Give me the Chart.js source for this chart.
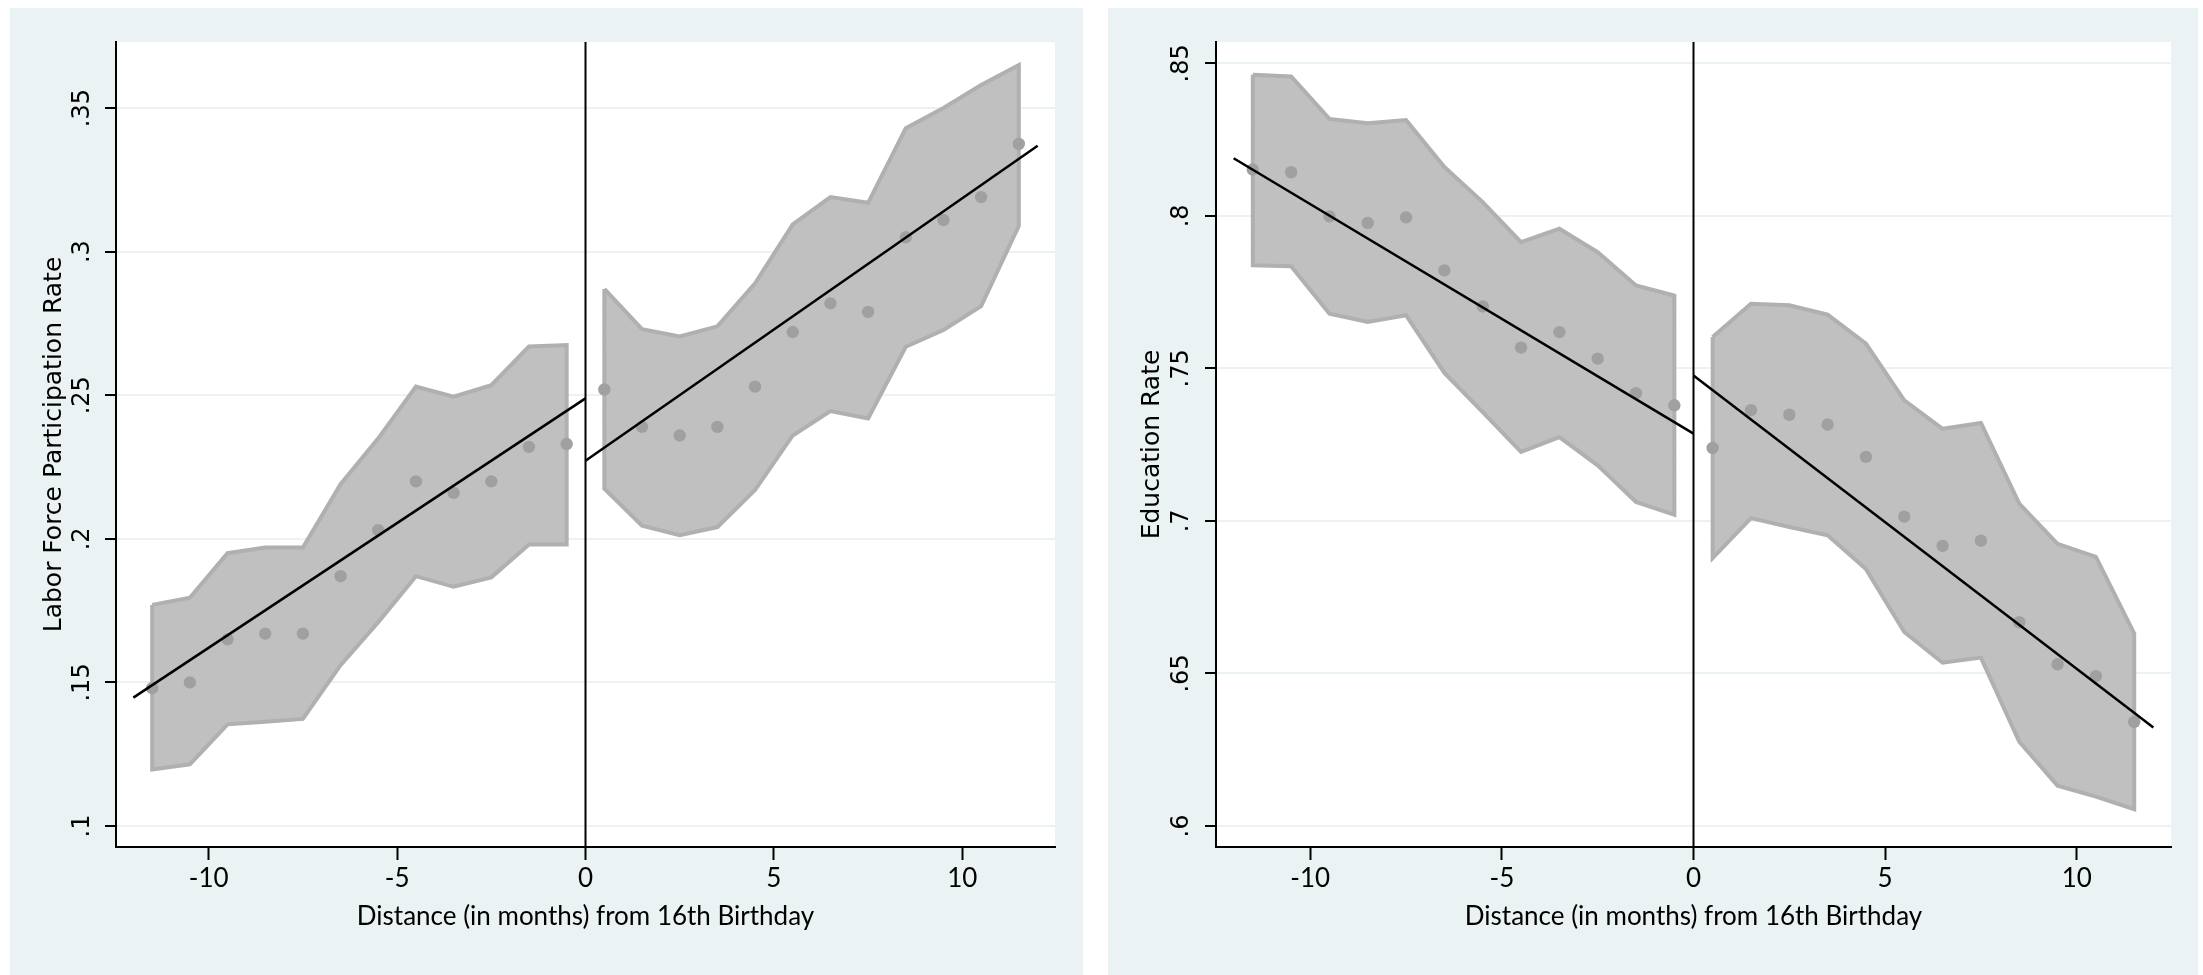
<!DOCTYPE html>
<html>
<head>
<meta charset="utf-8">
<script src="https://cdn.jsdelivr.net/npm/chart.js@4.4.1/dist/chart.umd.min.js"></script>
<style>
  body { margin: 0; background: #fff; width: 2203px; height: 975px; overflow: hidden; position: relative; }
  .panel { position: absolute; top: 8px; height: 967px; background: #eaf2f3; }
  #panel_labor { left: 10px; width: 1073px; }
  #panel_edu { left: 1108px; width: 1090px; }
  canvas { display: block; }
</style>
</head>
<body>
<div class="panel" id="panel_labor"><canvas id="labor_chart" width="1073" height="967"></canvas></div>
<div class="panel" id="panel_edu"><canvas id="edu_chart" width="1090" height="967"></canvas></div>
<script>
// bin midpoints, months from 16th birthday
const months = [-11.5, -10.5, -9.5, -8.5, -7.5, -6.5, -5.5, -4.5, -3.5, -2.5, -1.5, -0.5,
                0.5, 1.5, 2.5, 3.5, 4.5, 5.5, 6.5, 7.5, 8.5, 9.5, 10.5, 11.5];
const cutoff = 0;
const fitLeftX = [-12, 0];
const fitRightX = [0, 12];

// labor force participation (left panel)
const laborRate  = [0.148, 0.150, 0.165, 0.167, 0.167, 0.187, 0.203, 0.220, 0.216, 0.220, 0.232, 0.233,
                    0.252, 0.239, 0.236, 0.239, 0.253, 0.272, 0.282, 0.279, 0.305, 0.311, 0.319, 0.3375];
const laborUpper = [0.177, 0.1795, 0.195, 0.197, 0.197, 0.219, 0.235, 0.253, 0.2495, 0.2535, 0.267, 0.2675,
                    0.287, 0.273, 0.2705, 0.274, 0.289, 0.3095, 0.319, 0.317, 0.343, 0.350, 0.358, 0.365];
const laborLower = [0.1197, 0.1215, 0.1354, 0.1363, 0.1373, 0.156, 0.171, 0.187, 0.1833, 0.1866, 0.198, 0.198,
                    0.2175, 0.2046, 0.2013, 0.2041, 0.217, 0.236, 0.2445, 0.2419, 0.2669, 0.2727, 0.281, 0.309];
const laborFitLeft  = [0.1447, 0.2489];
const laborFitRight = [0.2272, 0.3369];

// education rate (right panel)
const eduRate  = [0.8152, 0.8143, 0.7998, 0.7977, 0.7995, 0.7821, 0.7703, 0.7568, 0.7619, 0.7532, 0.7419, 0.7379,
                  0.7239, 0.7363, 0.7348, 0.7316, 0.7210, 0.7014, 0.6918, 0.6935, 0.6668, 0.6530, 0.6491, 0.6341];
const eduUpper = [0.8463, 0.8457, 0.8318, 0.8304, 0.8314, 0.816, 0.8045, 0.7914, 0.7958, 0.7881, 0.7772, 0.7739,
                  0.7603, 0.7712, 0.7707, 0.7676, 0.7581, 0.7395, 0.7302, 0.7321, 0.7057, 0.6925, 0.6882, 0.6631];
const eduLower = [0.7838, 0.7835, 0.7679, 0.7652, 0.7674, 0.7485, 0.7357, 0.7226, 0.7275, 0.7182, 0.7062, 0.7020,
                  0.6878, 0.7009, 0.6980, 0.6953, 0.6842, 0.6636, 0.6535, 0.6552, 0.6276, 0.6132, 0.6096, 0.6055];
const eduFitLeft  = [0.8189, 0.7286];
const eduFitRight = [0.7477, 0.6323];

// axis ticks
const xTicks = [-10, -5, 0, 5, 10];
const xLabels = ['-10', '-5', '0', '5', '10'];
const xRange = [-12.46, 12.46];
const laborTicks = [0.1, 0.15, 0.2, 0.25, 0.3, 0.35];
const laborLabels = ['.1', '.15', '.2', '.25', '.3', '.35'];
const laborRange = [0.0927, 0.373];
const eduTicks = [0.6, 0.65, 0.7, 0.75, 0.8, 0.85];
const eduLabels = ['.6', '.65', '.7', '.75', '.8', '.85'];
const eduRange = [0.5931, 0.857];

const xTitle = 'Distance (in months) from 16th Birthday';

// white plot region on the tinted panel
const plotBackground = {
    id: 'plotBackground',
    beforeDraw(chart) {
        const a = chart.chartArea;
        chart.ctx.save();
        chart.ctx.fillStyle = '#ffffff';
        chart.ctx.fillRect(a.left, a.top, a.right - a.left, a.bottom - a.top);
        chart.ctx.restore();
    }
};

// closed outline of a CI band: upper left->right, lower right->left
function bandPolygon(xs, up, lo) {
    const pts = xs.map((x, i) => ({x: x, y: up[i]}));
    for (let i = xs.length - 1; i >= 0; i--) {
        pts.push({x: xs[i], y: lo[i]});
    }
    pts.push(pts[0]);
    return pts;
}

function toPoints(xs, ys) {
    return xs.map((x, i) => ({x: x, y: ys[i]}));
}

function drawPanel(canvasId, s) {
    const ctx = document.getElementById(canvasId).getContext('2d');
    const band = {
        type: 'scatter', showLine: true, pointRadius: 0, order: 4,
        borderColor: '#b0b0b0', borderWidth: 4, backgroundColor: '#c0c0c0', fill: 'shape'
    };
    const fit = {type: 'scatter', showLine: true, pointRadius: 0, order: 2, borderColor: '#000', borderWidth: 2.5, fill: false};

    new Chart(ctx, {
        type: 'scatter',
        data: {
            datasets: [
                Object.assign({}, band, {data: bandPolygon(months.slice(0, 12), s.upper.slice(0, 12), s.lower.slice(0, 12))}),
                Object.assign({}, band, {data: bandPolygon(months.slice(12), s.upper.slice(12), s.lower.slice(12))}),
                {
                    data: toPoints(months, s.rate), order: 3,
                    pointRadius: 6.2, pointBackgroundColor: '#a0a0a0', pointBorderWidth: 0
                },
                Object.assign({}, fit, {data: toPoints(fitLeftX, s.fitLeft)}),
                Object.assign({}, fit, {data: toPoints(fitRightX, s.fitRight)}),
                {   // cutoff line at the birthday
                    type: 'scatter', showLine: true, pointRadius: 0, order: 1,
                    borderColor: '#000', borderWidth: 2,
                    data: [{x: cutoff, y: s.range[0]}, {x: cutoff, y: s.range[1]}]
                }
            ]
        },
        options: {
            responsive: false,
            animation: false,
            events: [],
            layout: {padding: {left: 0, top: 34, right: s.rightPad, bottom: 0}},
            plugins: {legend: {display: false}, tooltip: {enabled: false}},
            scales: {
                x: {
                    type: 'linear', min: xRange[0], max: xRange[1],
                    afterBuildTicks: sc => { sc.ticks = xTicks.map(v => ({value: v})); },
                    afterFit: sc => { sc.height = 128; },
                    border: {display: true, color: '#000', width: 2},
                    grid: {drawOnChartArea: false, tickColor: '#000', tickWidth: 2, tickLength: 13},
                    ticks: {
                        autoSkip: false, maxRotation: 0, padding: 3, color: '#000',
                        font: {family: 'Lato', size: 26},
                        callback: (v, i) => xLabels[i]
                    },
                    title: {
                        display: true, text: xTitle, color: '#000',
                        font: {family: 'Lato', size: 26},
                        padding: {top: 0, bottom: 43}
                    }
                },
                y: {
                    type: 'linear', min: s.range[0], max: s.range[1],
                    afterBuildTicks: sc => { sc.ticks = s.ticks.map(v => ({value: v})); },
                    afterFit: sc => { sc.width = s.axisWidth; },
                    border: {display: true, color: '#000', width: 2},
                    grid: {color: '#eaf2f3', lineWidth: 2, tickColor: '#000', tickWidth: 2, tickLength: 11},
                    ticks: {
                        autoSkip: false, minRotation: 90, maxRotation: 90, crossAlign: 'center',
                        padding: s.tickPad, color: '#000',
                        font: {family: 'DejaVu Sans', size: 24},
                        callback: (v, i) => s.labels[i]
                    },
                    title: {
                        display: true, text: s.title, color: '#000',
                        font: {family: 'DejaVu Sans', size: 25},
                        padding: {top: 29, bottom: 0}
                    }
                }
            }
        },
        plugins: [plotBackground]
    });
}

drawPanel('labor_chart', {
    rate: laborRate, upper: laborUpper, lower: laborLower,
    fitLeft: laborFitLeft, fitRight: laborFitRight,
    range: laborRange, ticks: laborTicks, labels: laborLabels,
    title: 'Labor Force Participation Rate',
    axisWidth: 106, tickPad: 3, rightPad: 28
});

drawPanel('edu_chart', {
    rate: eduRate, upper: eduUpper, lower: eduLower,
    fitLeft: eduFitLeft, fitRight: eduFitRight,
    range: eduRange, ticks: eduTicks, labels: eduLabels,
    title: 'Education Rate',
    axisWidth: 108, tickPad: 4, rightPad: 27
});
</script>
</body>
</html>
